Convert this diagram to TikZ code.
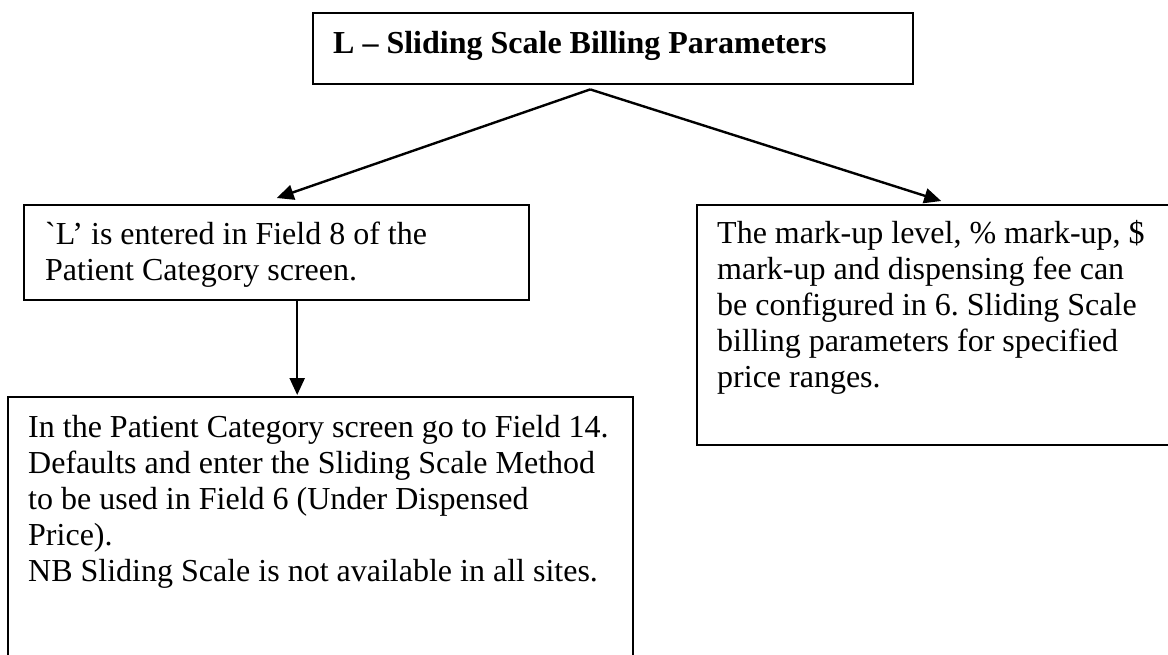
\documentclass[tikz,border=0pt]{standalone}
\usepackage{fontspec}
\setmainfont{Liberation Serif}
% same face without the TeX input mapping, for the plain grave mark
\newfontfamily\plainserif{Liberation Serif}
\usetikzlibrary{arrows.meta}

\tikzset{
  boxnode/.style={draw=black, line width=2.4pt, rectangle, inner sep=0pt,
    anchor=north west, fill=white},
  txtnode/.style={inner sep=0pt, anchor=base west,
    font=\fontsize{32}{36}\selectfont\frenchspacing},
  flowarrow/.style={line width=2.4pt,
    -{Triangle[length=17pt,width=15pt]}}
}
\newcommand{\linesbox}[2]{\parbox[t]{#1}{\raggedright #2}}

\begin{document}
\begin{tikzpicture}[x=1pt,y=-1pt]
  \useasboundingbox (0,0) rectangle (1168,654);
  \clip (0,0) rectangle (1168,654);

  % boxes
  \node[boxnode, minimum width=600pt, minimum height=71pt] (top) at (312,12) {};
  \node[boxnode, minimum width=505pt, minimum height=95pt] (lbox) at (23,204) {};
  \node[boxnode, minimum width=488pt, minimum height=240pt] (rbox) at (696,204) {};
  \node[boxnode, minimum width=625pt, minimum height=320pt] (bbox) at (7,396) {};

  % texts
  \node[txtnode] (toptxt) at (333,53) {\bfseries L – Sliding Scale Billing Parameters};

  \node[txtnode] (ltxt) at (45,244) {\linesbox{480pt}{%
    {\plainserif `}L’ is entered in Field 8 of the\\
    Patient Category screen.}};

  \node[txtnode] (rtxt) at (717,243) {\linesbox{460pt}{%
    The mark-up level, \% mark-up, \$\\
    mark-up and dispensing fee can\\
    be configured in 6. Sliding Scale\\
    billing parameters for specified\\
    price ranges.}};

  \node[txtnode] (btxt) at (28,437) {\linesbox{600pt}{%
    In the Patient Category screen go to Field 14.\\
    Defaults and enter the Sliding Scale Method\\
    to be used in Field 6 (Under Dispensed\\
    Price).\\
    NB Sliding Scale is not available in all sites.}};

  % connectors
  \coordinate (fork) at ([xshift=-23pt,yshift=-4pt]top.south);
  \draw[flowarrow] (fork) -- ([yshift=6pt]lbox.north);
  \draw[flowarrow] (fork) -- ([yshift=3pt]rbox.north);
  \draw[flowarrow, shorten >=1pt] ([xshift=20.5pt]lbox.south) -- ([xshift=20.5pt]lbox.south |- bbox.north);
\end{tikzpicture}
\end{document}
